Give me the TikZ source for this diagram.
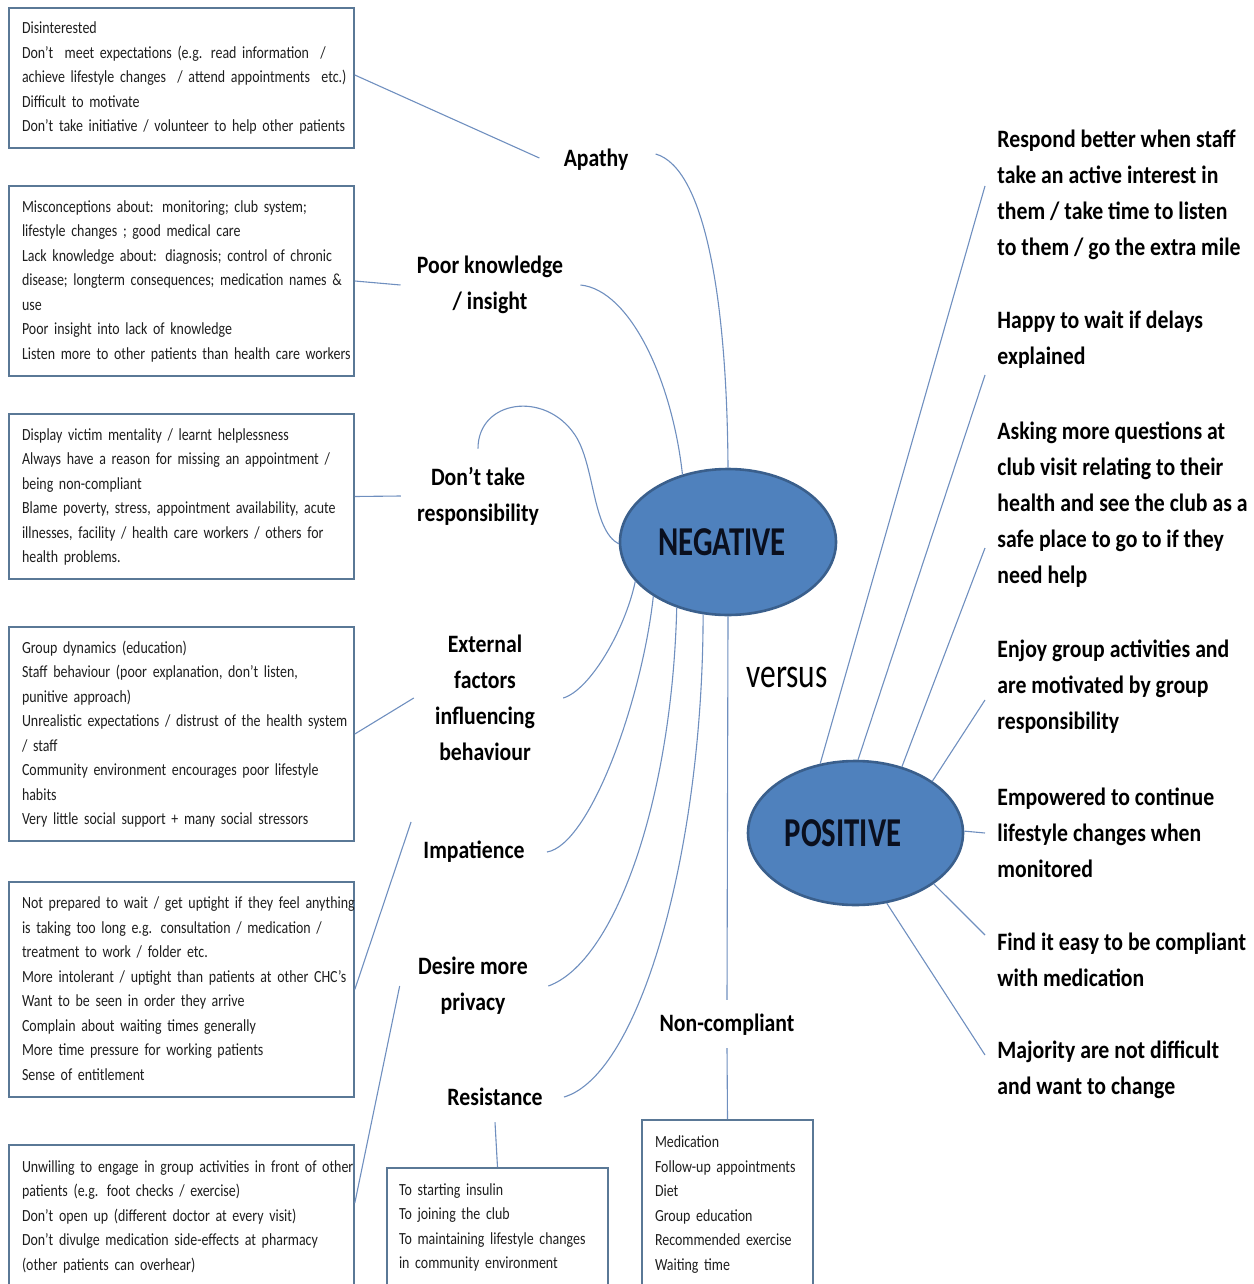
\documentclass[tikz,border=0pt]{standalone}
\usepackage{fontspec}
\setmainfont{Carlito}
\newfontfamily\boxfont[FakeStretch=0.82]{Carlito}
\newfontfamily\labfont[FakeStretch=0.87]{Carlito}
\newfontfamily\ellfont[FakeStretch=0.75]{Carlito}
\usetikzlibrary{shapes.geometric,calc}
\definecolor{boxline}{HTML}{5A7896}
\definecolor{connc}{HTML}{6F8FBF}
\definecolor{ellfill}{HTML}{4F81BD}
\definecolor{ellline}{HTML}{3A5F8C}
\definecolor{ellText}{HTML}{0A0F1E}
\definecolor{boxtext}{HTML}{1E1E1E}
\newcommand\boxtextfont{\boxfont\fontsize{8.5}{12.25}\selectfont}
\newcommand\boxlines[1]{\begin{tabular}{@{}l@{}}#1\end{tabular}}
\begin{document}
\begin{tikzpicture}[x=0.5pt,y=-0.5pt,
  box/.style={draw=boxline, line width=0.8pt, rectangle, inner ysep=0pt, align=left,
    font=\boxtextfont, text=boxtext},
  lbox/.style={box, inner xsep=6.5pt, text width=159.5pt, minimum height=#1},
  lab/.style={font=\labfont\bfseries\fontsize{12.5}{18}\selectfont, align=center, inner sep=0pt},
  rlab/.style={font=\labfont\bfseries\fontsize{12.5}{18}\selectfont, align=left, inner xsep=6pt, inner ysep=0pt, anchor=west},
  oval/.style={ellipse, draw=ellline, fill=ellfill, line width=1.3pt, inner sep=0pt,
    font=\ellfont\bfseries\fontsize{20.5}{24}\selectfont, text=ellText},
  conn/.style={draw=connc, line width=0.55pt}]
\useasboundingbox (0,0) rectangle (1253,1284);
\clip (0,0) rectangle (1253,1284);

% ---------- left boxes ----------
\node[lbox=70pt] (b1) at (181.5,78) {\boxlines{Disinterested\\
Don’t\ \ meet expectations (e.g. read information\ \ /\\
achieve lifestyle changes\ \ / attend appointments\ \ etc.)\\
Difficult to motivate\\
Don’t take initiative / volunteer to help other patients}};

\node[lbox=95pt] (b2) at (181.5,281) {\boxlines{Misconceptions about: monitoring; club system;\\
lifestyle changes ; good medical care\\
Lack knowledge about: diagnosis; control of chronic\\
disease; longterm consequences; medication names \&\\
use\\
Poor insight into lack of knowledge\\
Listen more to other patients than health care workers}};

\node[lbox=82.5pt] (b3) at (181.5,496.5) {\boxlines{Display victim mentality / learnt helplessness\\
Always have a reason for missing an appointment /\\
being non-compliant\\
Blame poverty, stress, appointment availability, acute\\
illnesses, facility / health care workers / others for\\
health problems.}};

\node[lbox=107pt] (b4) at (181.5,734) {\boxlines{Group dynamics (education)\\
Staff behaviour (poor explanation, don’t listen,\\
punitive approach)\\
Unrealistic expectations / distrust of the health system\\
/ staff\\
Community environment encourages poor lifestyle\\
habits\\
Very little social support + many social stressors}};

\node[lbox=107.5pt] (b5) at (181.5,989.5) {\boxlines{Not prepared to wait / get uptight if they feel anything\\
is taking too long e.g. consultation / medication /\\
treatment to work / folder etc.\\
More intolerant / uptight than patients at other CHC’s\\
Want to be seen in order they arrive\\
Complain about waiting times generally\\
More time pressure for working patients\\
Sense of entitlement}};

\node[lbox=71.5pt] (b6) at (181.5,1216.5) {\boxlines{Unwilling to engage in group activities in front of other\\
patients (e.g. foot checks / exercise)\\
Don’t open up (different doctor at every visit)\\
Don’t divulge medication side-effects at pharmacy\\
(other patients can overhear)}};

\node[box, inner xsep=6pt, text width=98.5pt, minimum height=59pt] (b7) at (497.5,1227) {\boxlines{To starting insulin\\
To joining the club\\
To maintaining lifestyle changes\\
in community environment}};

\node[box, inner xsep=6.5pt, text width=72.5pt, minimum height=84pt] (b8) at (727.5,1204) {\boxlines{Medication\\
Follow-up appointments\\
Diet\\
Group education\\
Recommended exercise\\
Waiting time}};

% ---------- ellipses ----------
\node[oval, minimum width=108pt, minimum height=73pt] (neg) at (728,542) {NEGATIVE\hspace*{6pt}};
\node[oval, minimum width=107.5pt, minimum height=72pt] (pos) at (855.5,833) {POSITIVE\hspace*{12.5pt}};

% ---------- category labels ----------
\node[lab] (apathy) at (596,160) {Apathy};
\node[lab] (poor) at (490,285) {Poor knowledge\\ / insight};
\node[lab] (dont) at (478,496) {Don’t take\\ responsibility};
\node[lab] (ext) at (485,698) {External\\ factors\\ influencing\\ behaviour};
\node[lab] (imp) at (474,852) {Impatience};
\node[lab] (des) at (473,986) {Desire more\\ privacy};
\node[lab] (res) at (495,1097) {Resistance};
\node[lab] (nonc) at (727,1025) {Non-compliant};
\node[font=\ellfont\fontsize{21}{24}\selectfont, inner sep=0pt] (vs) at (787,677) {versus};

% ---------- positive labels ----------
\node[rlab] (r1) at (985,195) {Respond better when staff\\ take an active interest in\\ them / take time to listen\\ to them / go the extra mile};
\node[rlab] (r2) at (985,340) {Happy to wait if delays\\ explained};
\node[rlab] (r3) at (985,505) {Asking more questions at\\ club visit relating to their\\ health and see the club as a\\ safe place to go to if they\\ need help};
\node[rlab] (r4) at (985,687) {Enjoy group activities and\\ are motivated by group\\ responsibility};
\node[rlab] (r5) at (985,833) {Empowered to continue\\ lifestyle changes when\\ monitored};
\node[rlab] (r6) at (985,960) {Find it easy to be compliant\\ with medication};
\node[rlab] (r7) at (985,1070) {Majority are not difficult\\ and want to change};

% ---------- box connectors ----------
\draw[conn] ([yshift=1.5pt]b1.east) -- ([xshift=-12pt,yshift=1pt]apathy.west);
\draw[conn] (b2.east) -- ([xshift=-8pt]poor.west);
\draw[conn] (b3.east) -- ([xshift=-8pt]dont.west);
\draw[conn] (b4.east) -- ([xshift=-10.5pt]ext.west);
\draw[conn] (b5.east) -- ([xshift=-6pt,yshift=15pt]imp.west);
\draw[conn] ([yshift=6.75pt]b6.east) -- ([xshift=-9pt]des.west);
\draw[conn] ([yshift=-8pt]res.south) -- (b7.north);
\draw[conn] ([yshift=-6pt]nonc.south) -- (b8.north);

% ---------- negative branches ----------
\draw[conn] ([xshift=13.5pt,yshift=3pt]apathy.east) .. controls (705,168) and (727,300) .. (neg.90);
\draw[conn] ([xshift=8.5pt]poor.east) .. controls (630,290) and (672,380) .. (neg.124);
\draw[conn] ([yshift=9pt]dont.north) .. controls (478,400) and (545,390) .. (575,435)
  .. controls (595,465) and (592,530) .. (neg.181);
\draw[conn] ([xshift=14pt]ext.east) .. controls (590,690) and (625,630) .. (neg.203);
\draw[conn] ([xshift=11pt]imp.east) .. controls (590,845) and (642,700) .. (neg.216);
\draw[conn] ([xshift=10pt]des.east) .. controls (615,962) and (672,800) .. (neg.232);
\draw[conn] ([xshift=10.5pt]res.east) .. controls (640,1075) and (703,850) .. (neg.251);
\draw[conn] (neg.270) -- ([yshift=7pt]nonc.north);

% ---------- positive branches ----------
\draw[conn] (pos.117) -- ([yshift=4.5pt]r1.west);
\draw[conn] (pos.88) -- ([yshift=-17.5pt]r2.west);
\draw[conn] (pos.55) -- ([yshift=-21.5pt]r3.west);
\draw[conn] (pos.34) -- ([yshift=-6.5pt]r4.west);
\draw[conn] (pos.1) -- (r5.west);
\draw[conn] (pos.327) -- ([yshift=12.5pt]r6.west);
\draw[conn] (pos.294) -- ([yshift=7.5pt]r7.west);
\end{tikzpicture}
\end{document}
